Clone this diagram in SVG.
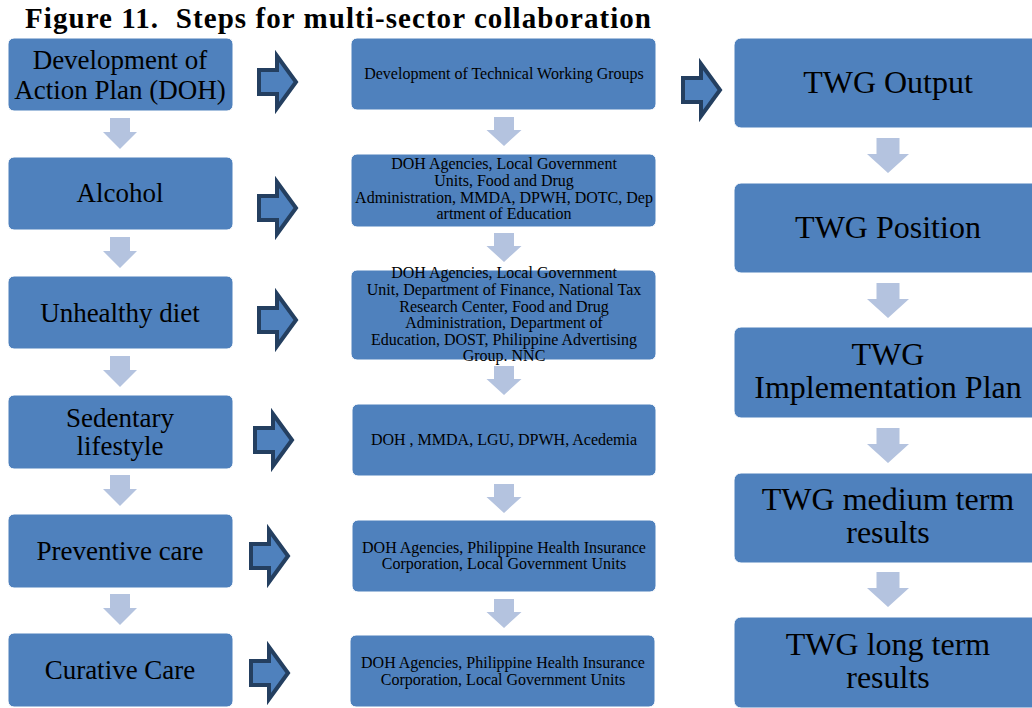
<svg xmlns="http://www.w3.org/2000/svg" width="1032" height="708" viewBox="0 0 1032 708">
<style>
.box{fill:#4f81bd;stroke:#ffffff;stroke-width:1}
.t{font-family:"Liberation Serif","Times New Roman",serif;fill:#000;text-anchor:middle}
.lt{font-size:27px}
.mt{font-size:16px}
.rt{font-size:32px}
.down{fill:#b4c3df}
.right{fill:#4f81bd;stroke:#243f60;stroke-width:4;stroke-linejoin:miter}
</style>
<defs>
<polygon id="bigArrow" class="right" points="2,-12 20,-12 20,-26 39,0 20,26 20,12 2,12"/>
<polygon id="dL" class="down" points="-10,0 10,0 10,14 17,14 0,31 -17,14 -10,14"/>
<polygon id="dM" class="down" points="-10,0 10,0 10,13 17.5,13 0,29 -17.5,13 -10,13"/>
<polygon id="dR" class="down" points="-11.5,0 11.5,0 11.5,16 21,16 0,35 -21,16 -11.5,16"/>
</defs>
<rect width="1032" height="708" fill="#ffffff"/>
<text id="title" x="25" y="28" xml:space="preserve" font-family="Liberation Serif, Times New Roman, serif" font-weight="bold" font-size="29" textLength="626">Figure 11.  Steps for multi-sector collaboration</text>

<g id="connectors">
<use href="#dL" x="120" y="118"/>
<use href="#dL" x="120" y="237"/>
<use href="#dL" x="120" y="356"/>
<use href="#dL" x="120" y="475"/>
<use href="#dL" x="120" y="594"/>
<use href="#dM" x="504" y="117"/>
<use href="#dM" x="504" y="233"/>
<use href="#dM" x="504" y="366"/>
<use href="#dM" x="504" y="484"/>
<use href="#dM" x="504" y="599"/>
<use href="#dR" x="888" y="138"/>
<use href="#dR" x="888" y="283"/>
<use href="#dR" x="888" y="428"/>
<use href="#dR" x="888" y="572"/>
<use href="#bigArrow" x="257" y="82"/>
<use href="#bigArrow" x="257" y="208"/>
<use href="#bigArrow" x="257" y="320"/>
<use href="#bigArrow" x="253" y="440"/>
<use href="#bigArrow" x="249" y="556"/>
<use href="#bigArrow" x="249" y="673"/>
<use href="#bigArrow" x="681" y="90"/>
</g>

<g id="l1"><rect class="box" x="8" y="38" width="225" height="73" rx="6"/><text class="t lt" x="120" y="69">Development of</text><text class="t lt" x="120" y="99">Action Plan (DOH)</text></g>
<g id="l2"><rect class="box" x="8" y="157" width="225" height="73" rx="6"/><text class="t lt" x="120" y="202">Alcohol</text></g>
<g id="l3"><rect class="box" x="8" y="276" width="225" height="73" rx="6"/><text class="t lt" x="120" y="322">Unhealthy diet</text></g>
<g id="l4"><rect class="box" x="8" y="395" width="225" height="74" rx="6"/><text class="t lt" x="120" y="427">Sedentary</text><text class="t lt" x="120" y="455">lifestyle</text></g>
<g id="l5"><rect class="box" x="8" y="514" width="225" height="74" rx="6"/><text class="t lt" x="120" y="560">Preventive care</text></g>
<g id="l6"><rect class="box" x="8" y="633" width="225" height="74" rx="6"/><text class="t lt" x="120" y="679">Curative Care</text></g>

<g id="m1"><rect class="box" x="351" y="38" width="305" height="72" rx="6"/><text class="t mt" x="504" y="79">Development of Technical Working Groups</text></g>
<g id="m2"><rect class="box" x="351" y="154" width="305" height="73" rx="6"/>
<text class="t mt" x="504" y="169">DOH Agencies, Local Government</text>
<text class="t mt" x="504" y="186">Units, Food and Drug</text>
<text class="t mt" x="504" y="203">Administration, MMDA, DPWH, DOTC, Dep</text>
<text class="t mt" x="504" y="219">artment of Education</text></g>
<g id="m3"><rect class="box" x="351" y="270" width="305" height="90" rx="6"/>
<text class="t mt" x="504" y="278">DOH Agencies, Local Government</text>
<text class="t mt" x="504" y="295">Unit, Department of Finance, National Tax</text>
<text class="t mt" x="504" y="312">Research Center, Food and Drug</text>
<text class="t mt" x="504" y="328">Administration, Department of</text>
<text class="t mt" x="504" y="345">Education, DOST, Philippine Advertising</text>
<text class="t mt" x="504" y="361">Group. NNC</text></g>
<g id="m4"><rect class="box" x="352" y="404" width="304" height="72" rx="6"/><text class="t mt" x="504" y="445">DOH , MMDA, LGU, DPWH, Acedemia</text></g>
<g id="m5"><rect class="box" x="352" y="520" width="304" height="72" rx="6"/>
<text class="t mt" x="504" y="553">DOH Agencies, Philippine Health Insurance</text>
<text class="t mt" x="504" y="569">Corporation, Local Government Units</text></g>
<g id="m6"><rect class="box" x="350" y="635" width="305" height="72" rx="6"/>
<text class="t mt" x="503" y="668">DOH Agencies, Philippine Health Insurance</text>
<text class="t mt" x="503" y="685">Corporation, Local Government Units</text></g>

<g id="r1"><rect class="box" x="734" y="38" width="320" height="90" rx="7"/><text class="t rt" x="888" y="93">TWG Output</text></g>
<g id="r2"><rect class="box" x="734" y="183" width="320" height="90" rx="7"/><text class="t rt" x="888" y="238">TWG Position</text></g>
<g id="r3"><rect class="box" x="734" y="327" width="320" height="91" rx="7"/><text class="t rt" x="888" y="365">TWG</text><text class="t rt" x="888" y="398">Implementation Plan</text></g>
<g id="r4"><rect class="box" x="734" y="473" width="320" height="90" rx="7"/><text class="t rt" x="888" y="510">TWG medium term</text><text class="t rt" x="888" y="543">results</text></g>
<g id="r5"><rect class="box" x="734" y="617" width="320" height="91" rx="7"/><text class="t rt" x="888" y="655">TWG long term</text><text class="t rt" x="888" y="688">results</text></g>
</svg>
